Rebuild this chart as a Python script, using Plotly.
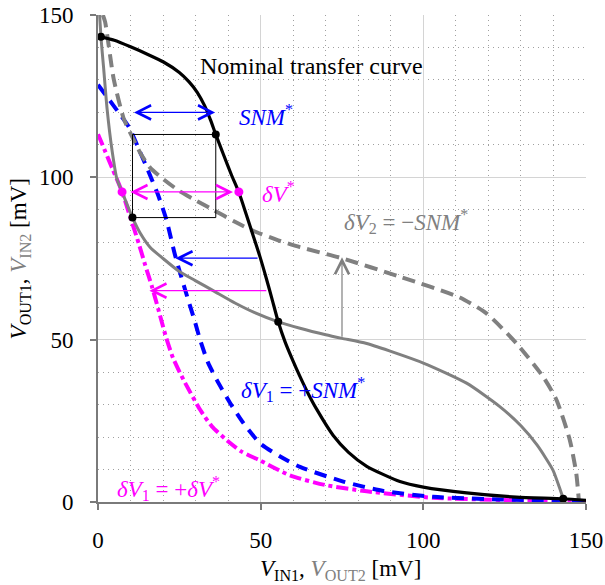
import plotly.graph_objects as go

# ---------------- data ----------------
black_x = [0, 5, 10, 15, 20, 25, 28, 30.5, 32.8, 34.6, 36.2, 38.5, 41, 43.3, 45.5, 47.5, 49.8, 51.7,
           53.5, 55.4, 57.5, 60, 62.1, 64.5, 67.2, 72.3, 77, 82.6, 92.8, 100, 113.3, 128.6, 143, 150]
black_y = [143.5, 142.2, 140.2, 138.0, 135.6, 132.3, 129.4, 126.2, 122.0, 117.6, 113.2, 107.2, 100.8,
           95.4, 88.8, 82.6, 75.5, 69.0, 62.5, 55.5, 49.3, 43.3, 38.6, 33.6, 28.6, 20.5, 15.3, 11.0,
           6.3, 4.6, 2.8, 1.5, 1.0, 0.5]

gray_x = [0.5, 1.0, 1.7, 2.8, 4.3, 5.8, 7.4, 10.6, 13.0, 16.0, 20.0, 25.0, 29.9, 35.4, 42.1, 48.0,
          55.4, 62.1, 70.0, 75.0, 82.6, 100.0, 113.3, 123.5, 130.0, 135.0, 139.8, 142.0, 143.0]
gray_y = [150, 142, 134, 121, 108.4, 99.5, 95.5, 87.6, 82.8, 78.5, 75.0, 71.0, 68.2, 65.1, 61.3, 58.4,
          55.5, 53.5, 51.5, 50.4, 48.8, 42.8, 36.6, 29.4, 23.5, 17.5, 9.9, 4.0, 1.0]

gray_dash_x = [1.5, 2.2, 4.8, 7.9, 10.6, 13.0, 16.0, 20.0, 25.0, 29.9, 35.4, 42.1, 48.0, 55.4, 62.1,
               74.5, 92.8, 111.2, 119.4, 128.6, 136.8, 140.9, 145.0, 147.0, 147.8]
gray_dash_y = [150, 147.8, 130.4, 118.1, 112.3, 107.5, 103.0, 99.5, 95.8, 93.0, 90.0, 86.3, 83.4,
               80.6, 78.5, 75.2, 69.4, 63.0, 58.1, 48.9, 38.6, 31.5, 19.2, 8.9, 0.5]

blue_x = [0, 3, 6.3, 9.5, 12.5, 15, 18.3, 21, 23.8, 26.8, 29.8, 31.4, 33.8, 36.5, 40.6, 44.7, 49.8,
          56, 62.1, 75.4, 87.7, 103, 123.5, 150]
blue_y = [128.5, 124.5, 120.0, 115.5, 108.8, 103.0, 95.0, 87.0, 75.6, 65.3, 55.5, 49.9, 43.0, 37.6,
          30.5, 24.3, 18.1, 14.0, 10.8, 6.3, 3.4, 1.6, 0.8, 0.3]

magenta_x = [0, 2, 4.5, 7.4, 10, 12.5, 14.5, 16.6, 18.5, 20.7, 23, 26.3, 31.4, 35, 39.6, 44, 49.8,
             59, 70, 82.6, 103, 125, 150]
magenta_y = [113.3, 108.5, 102.5, 95.5, 87.5, 79.7, 73.0, 66.3, 59.5, 51.5, 44.5, 37.6, 28.4, 23.3,
             19.0, 15.6, 12.8, 8.2, 5.2, 3.3, 1.3, 0.6, 0.3]

black_dot_x = [0.9, 36.2, 10.6, 55.4, 143.0]
black_dot_y = [143.3, 113.2, 87.6, 55.5, 1.0]
magenta_dot_x = [7.4, 43.3]
magenta_dot_y = [95.5, 95.5]

box_x = [10.6, 36.2]
box_y = [87.6, 113.2]

# arrows: (tail_x, tail_y, head_x, head_y, color, both_ends)
arrows = [
    (10.6, 120.0, 36.0, 120.0, "#0000ff", True),
    (9.5, 95.5, 41.5, 95.5, "#ff00ff", True),
    (49.5, 75.1, 23.8, 75.1, "#0000ff", False),
    (52.2, 65.1, 15.8, 65.1, "#ff00ff", False),
    (75.0, 50.4, 75.0, 75.4, "#808080", False),
]

# labels: (x, y, text, color, anchor, size)
labels = [
    (65.6, 134.2, "Nominal transfer curve", "black", "center", 24),
    (42.8, 119.2, "<i>SNM</i><sup>*</sup>", "#0000ff", "left", 23),
    (49.8, 95.2, "<i>δV</i><sup>*</sup>", "#ff00ff", "left", 23),
    (74.9, 86.3, "<i>δV</i><sub>2</sub> = −<i>SNM</i><sup>*</sup>", "#808080", "left", 23),
    (43.2, 34.6, "<i>δV</i><sub>1</sub> = +<i>SNM</i><sup>*</sup>", "#0000ff", "left", 23),
    (5.3, 4.3, "<i>δV</i><sub>1</sub> = +<i>δV</i><sup>*</sup>", "#ff00ff", "left", 23),
]

x_title = "<i>V</i><sub>IN1</sub>, <span style='color:#808080'><i>V</i><sub>OUT2</sub></span> [mV]"
y_title = "<i>V</i><sub>OUT1</sub>, <span style='color:#808080'><i>V</i><sub>IN2</sub></span> [mV]"

FONT = "Liberation Serif, Times New Roman, DejaVu Serif, serif"

fig = go.Figure()

fig.add_trace(go.Scatter(x=magenta_x, y=magenta_y, mode="lines",
                         line=dict(color="#ff00ff", width=4, dash="12px,4px,4px,4px",
                                   shape="spline", smoothing=0.6)))
fig.add_trace(go.Scatter(x=blue_x, y=blue_y, mode="lines",
                         line=dict(color="#0000ff", width=4, dash="12px,8px",
                                   shape="spline", smoothing=0.6)))
fig.add_trace(go.Scatter(x=gray_dash_x, y=gray_dash_y, mode="lines",
                         line=dict(color="#808080", width=4, dash="13px,7px",
                                   shape="spline", smoothing=0.6)))
fig.add_trace(go.Scatter(x=gray_x, y=gray_y, mode="lines",
                         line=dict(color="#808080", width=3, shape="spline", smoothing=0.6)))
fig.add_trace(go.Scatter(x=black_x, y=black_y, mode="lines",
                         line=dict(color="black", width=3.2, shape="spline", smoothing=0.6)))
fig.add_trace(go.Scatter(x=black_dot_x, y=black_dot_y, mode="markers",
                         marker=dict(color="black", size=8)))
fig.add_trace(go.Scatter(x=magenta_dot_x, y=magenta_dot_y, mode="markers",
                         marker=dict(color="#ff00ff", size=9)))

fig.add_shape(type="rect", x0=box_x[0], x1=box_x[1], y0=box_y[0], y1=box_y[1],
              xref="x", yref="y", line=dict(color="black", width=1))

for tx, ty, hx, hy, col, both in arrows:
    fig.add_annotation(x=hx, y=hy, ax=tx, ay=ty, xref="x", yref="y", axref="x", ayref="y",
                       text="", showarrow=True, arrowhead=5, arrowsize=2.3, arrowwidth=1.2,
                       arrowcolor=col, arrowside="end+start" if both else "end",
                       startarrowhead=5, startarrowsize=2.3, standoff=0, startstandoff=0)

for lx, ly, txt, col, anc, sz in labels:
    fig.add_annotation(x=lx, y=ly, xref="x", yref="y", text=txt, showarrow=False,
                       xanchor=anc, yanchor="middle",
                       font=dict(family=FONT, size=sz, color=col))

# axis titles
fig.add_annotation(x=0.496, y=-0.139, xref="paper", yref="paper", text=x_title, showarrow=False,
                   xanchor="center", yanchor="middle", font=dict(family=FONT, size=23, color="black"))
fig.add_annotation(x=-0.16, y=0.5, xref="paper", yref="paper", text=y_title, showarrow=False,
                   textangle=-90, xanchor="center", yanchor="middle",
                   font=dict(family=FONT, size=23, color="black"))

axis_common = dict(
    range=[0, 150], tick0=0, dtick=50, showgrid=True, gridcolor="#d4d4d4", gridwidth=1,
    minor=dict(dtick=10, showgrid=True, gridcolor="#a0a0a0", griddash="1px,4px", gridwidth=1),
    showline=True, linecolor="#7a7a7a", linewidth=2, ticks="outside", ticklen=6,
    tickcolor="#7a7a7a", tickwidth=1.5, zeroline=False, automargin=False,
    tickfont=dict(family=FONT, size=23, color="black"),
)

fig.update_xaxes(**axis_common, ticklabelstandoff=10)
fig.update_yaxes(**axis_common, ticklabelstandoff=12)

fig.update_layout(width=605, height=585, showlegend=False,
                  margin=dict(l=98, r=19, t=15, b=83),
                  plot_bgcolor="white", paper_bgcolor="white")

fig.write_html("out.html")
